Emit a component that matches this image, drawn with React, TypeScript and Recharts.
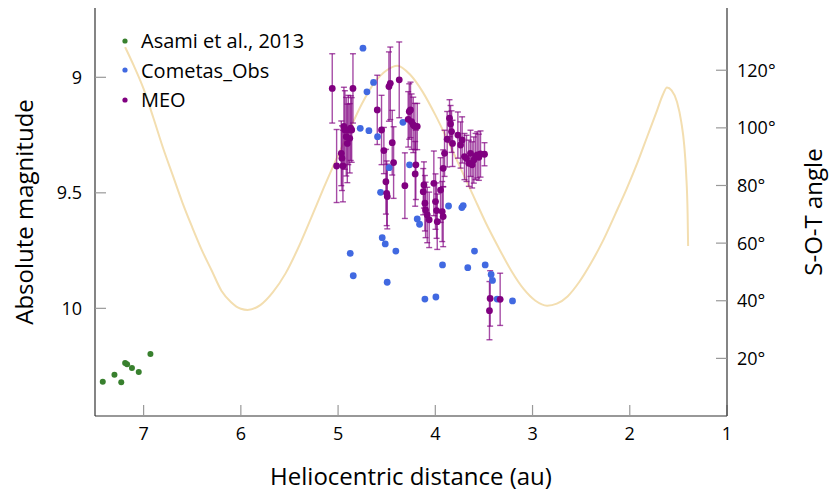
import React from 'react';
import {
  ComposedChart,
  Scatter,
  Line,
  XAxis,
  YAxis,
  ErrorBar,
  Label,
  Legend,
} from 'recharts';

// Asami et al., 2013
const asamiR = [7.42, 7.3, 7.23, 7.19, 7.17, 7.12, 7.05, 6.93];
const asamiMag = [10.318, 10.287, 10.32, 10.237, 10.242, 10.258, 10.276, 10.198];

// Cometas_Obs
const obsR = [
  4.744, 4.635, 4.703, 4.772, 4.683, 4.594, 4.333, 4.474, 4.265, 4.563, 3.864,
  3.727, 3.713, 4.186, 4.162, 4.875, 4.844, 4.546, 4.515, 4.406, 4.495, 4.107,
  3.994, 3.926, 3.666, 3.597, 3.487, 3.426, 3.412, 3.364, 3.206,
];
const obsMag = [
  8.874, 9.022, 9.063, 9.221, 9.231, 9.257, 9.195, 9.391, 9.379, 9.498, 9.557,
  9.564, 9.555, 9.613, 9.636, 9.762, 9.859, 9.694, 9.721, 9.752, 9.887, 9.96,
  9.951, 9.812, 9.824, 9.752, 9.812, 9.853, 9.879, 9.96, 9.968,
];

// MEO with error bars
const meoR = [
  5.06, 5.015, 4.967, 4.96, 4.95, 4.94, 4.93, 4.916, 4.905, 4.895, 4.88, 4.87,
  4.86, 4.847, 4.597, 4.553, 4.529, 4.508, 4.5, 4.494, 4.477, 4.463, 4.443,
  4.429, 4.371, 4.313, 4.279, 4.268, 4.255, 4.244, 4.227, 4.21, 4.207, 4.2,
  4.186, 4.124, 4.117, 4.107, 4.1, 4.083, 4.063, 4.015, 3.998, 3.987, 3.98,
  3.946, 3.929, 3.919, 3.919, 3.905, 3.878, 3.854, 3.843, 3.833, 3.823, 3.768,
  3.74, 3.724, 3.7, 3.679, 3.655, 3.638, 3.621, 3.604, 3.586, 3.569, 3.552,
  3.535, 3.494, 3.436, 3.443, 3.333,
];
const meoMag = [
  9.048, 9.384, 9.329, 9.35, 9.384, 9.213, 9.228, 9.257, 9.286, 9.228, 9.264,
  9.22, 9.228, 9.048, 9.141, 9.228, 9.317, 9.452, 9.502, 9.516, 9.04, 9.026,
  9.283, 9.369, 9.011, 9.469, 9.182, 9.148, 9.141, 9.192, 9.206, 9.213, 9.418,
  9.379, 9.213, 9.495, 9.466, 9.545, 9.574, 9.596, 9.617, 9.459, 9.538, 9.577,
  9.625, 9.488, 9.581, 9.603, 9.394, 9.329, 9.268, 9.177, 9.202, 9.235, 9.286,
  9.25, 9.293, 9.271, 9.343, 9.351, 9.372, 9.329, 9.379, 9.358, 9.343, 9.336,
  9.346, 9.332, 9.333, 9.957, 10.01, 9.961,
];
const meoErr = [
  0.15, 0.158, 0.14, 0.14, 0.155, 0.17, 0.17, 0.17, 0.17, 0.15, 0.15, 0.14,
  0.14, 0.15, 0.15, 0.15, 0.1, 0.14, 0.14, 0.14, 0.15, 0.157, 0.14, 0.155,
  0.164, 0.142, 0.12, 0.12, 0.12, 0.12, 0.12, 0.1, 0.14, 0.15, 0.1, 0.1, 0.1,
  0.12, 0.12, 0.12, 0.12, 0.14, 0.12, 0.12, 0.12, 0.14, 0.13, 0.13, 0.08, 0.1,
  0.12, 0.08, 0.08, 0.09, 0.1, 0.1, 0.1, 0.1, 0.1, 0.1, 0.1, 0.1, 0.1, 0.1,
  0.1, 0.1, 0.1, 0.1, 0.05, 0.12, 0.126, 0.113,
];

// S-O-T angle along the orbit
const sotR = [
  7.19, 7.1, 7.0, 6.9, 6.8, 6.7, 6.6, 6.5, 6.4, 6.3, 6.2, 6.1, 6.0, 5.93, 5.8,
  5.67, 5.54, 5.42, 5.28, 5.15, 5.02, 4.89, 4.76, 4.63, 4.5, 4.39, 4.26, 4.13,
  4.0, 3.87, 3.74, 3.61, 3.48, 3.35, 3.22, 3.09, 2.97, 2.85, 2.75, 2.64, 2.52,
  2.4, 2.28, 2.15, 2.03, 1.92, 1.82, 1.72, 1.66, 1.617, 1.57, 1.514, 1.47, 1.44,
  1.42, 1.405, 1.4,
];
const sotAngle = [
  128, 121.5, 113.5, 103.5, 93, 83.5, 74, 65.5, 57.5, 50.5, 43.5, 39.5, 37.2,
  36.8, 38.5, 43, 49.5, 57.6, 68.5, 79, 89, 98.7, 108, 115.5, 120, 121.6, 118.5,
  112.5, 104.5, 95.5, 86, 76.5, 67, 58.5, 50.5, 44, 40, 38.3, 39, 41.5, 46.5,
  53, 60.5, 70, 79, 88, 97, 106, 111.5, 114, 113, 109, 102, 94, 84, 70, 59,
];

const xTicks = [1, 2, 3, 4, 5, 6, 7];
const magTicks = [9, 9.5, 10];
const angleTicks = [20, 40, 60, 80, 100, 120];

const series = [
  { name: 'Asami et al., 2013', color: '#38802e' },
  { name: 'Cometas_Obs', color: '#4169e1' },
  { name: 'MEO', color: '#800080' },
];

const asami = asamiR.map((r, i) => ({ r, mag: asamiMag[i] }));
const obs = obsR.map((r, i) => ({ r, mag: obsMag[i] }));
const meo = meoR.map((r, i) => ({ r, mag: meoMag[i], err: meoErr[i] }));
const sot = sotR.map((r, i) => ({ r, angle: sotAngle[i] }));

const FONT = '"Open Sans", sans-serif';
const tickStyle = { fill: '#000', fontSize: 18, fontFamily: FONT };

const dot = (r: number, fill: string) => (props: any) => (
  <circle cx={props.cx} cy={props.cy} r={r} fill={fill} />
);

const LegendBox = () => (
  <div style={{ fontFamily: FONT, fontSize: 20, color: '#000' }}>
    {series.map((s) => (
      <div key={s.name} style={{ display: 'flex', alignItems: 'center', height: 29.5 }}>
        <svg width={21} height={10}>
          <circle cx={5} cy={5} r={2.6} fill={s.color} />
        </svg>
        <span>{s.name}</span>
      </div>
    ))}
  </div>
);

export default function App() {
  return (
    <div style={{ position: 'absolute', left: 0, top: 0 }}>
      <ComposedChart
        width={830}
        height={492}
        margin={{ top: 8, right: 0, bottom: 0, left: 0 }}
      >
        <XAxis
          dataKey="r"
          type="number"
          domain={[1, 7.5]}
          reversed
          allowDataOverflow
          ticks={xTicks}
          height={76}
          tickSize={-11}
          tickMargin={22}
          tick={tickStyle}
          axisLine={{ stroke: '#333', strokeWidth: 1.2 }}
          tickLine={{ stroke: '#999', strokeWidth: 1.2 }}
        >
          <Label
            content={({ viewBox }: any) => (
              <text
                x={viewBox.x + viewBox.width / 2}
                y={viewBox.y + 69}
                textAnchor="middle"
                fontSize={24}
                fontFamily={FONT}
                fill="#000"
              >
                Heliocentric distance (au)
              </text>
            )}
          />
        </XAxis>
        <XAxis
          xAxisId="top"
          dataKey="r"
          type="number"
          orientation="top"
          domain={[1, 7.5]}
          reversed
          allowDataOverflow
          ticks={[2, 3, 4, 5, 6, 7]}
          height={0}
          tickSize={-11}
          tickFormatter={() => ''}
          axisLine={{ stroke: '#333', strokeWidth: 1.2 }}
          tickLine={{ stroke: '#999', strokeWidth: 1.2 }}
        />
        <YAxis
          yAxisId="mag"
          dataKey="mag"
          type="number"
          domain={[8.7, 10.466]}
          reversed
          allowDataOverflow
          ticks={magTicks}
          width={95}
          tickSize={-11}
          tickMargin={24}
          tick={tickStyle}
          axisLine={{ stroke: '#333', strokeWidth: 1.2 }}
          tickLine={{ stroke: '#999', strokeWidth: 1.2 }}
        >
          <Label
            content={({ viewBox }: any) => {
              const cx = viewBox.x + 23;
              const cy = viewBox.y + viewBox.height / 2;
              return (
                <text
                  x={cx}
                  y={cy}
                  transform={`rotate(-90, ${cx}, ${cy})`}
                  textAnchor="middle"
                  dominantBaseline="central"
                  fontSize={24}
                  fontFamily={FONT}
                  fill="#000"
                >
                  Absolute magnitude
                </text>
              );
            }}
          />
        </YAxis>
        <YAxis
          yAxisId="angle"
          dataKey="angle"
          orientation="right"
          type="number"
          domain={[0, 141.6]}
          allowDataOverflow
          ticks={angleTicks}
          width={103}
          tickSize={-11}
          tickMargin={21}
          tick={tickStyle}
          tickFormatter={(v: number) => `${v}°`}
          axisLine={{ stroke: '#333', strokeWidth: 1.2 }}
          tickLine={{ stroke: '#999', strokeWidth: 1.2 }}
        >
          <Label
            content={({ viewBox }: any) => {
              const cx = viewBox.x + 85;
              const cy = viewBox.y + viewBox.height / 2;
              return (
                <text
                  x={cx}
                  y={cy}
                  transform={`rotate(-90, ${cx}, ${cy})`}
                  textAnchor="middle"
                  dominantBaseline="central"
                  fontSize={24}
                  fontFamily={FONT}
                  fill="#000"
                >
                  S-O-T angle
                </text>
              );
            }}
          />
        </YAxis>
        <Line
          yAxisId="angle"
          data={sot}
          dataKey="angle"
          type="monotone"
          stroke="#f3deb0"
          strokeWidth={2}
          dot={false}
          activeDot={false}
          isAnimationActive={false}
        />
        <Scatter
          yAxisId="mag"
          name={series[0].name}
          data={asami}
          fill={series[0].color}
          shape={dot(3, series[0].color)}
          isAnimationActive={false}
        />
        <Scatter
          yAxisId="mag"
          name={series[1].name}
          data={obs}
          fill={series[1].color}
          shape={dot(3.4, series[1].color)}
          isAnimationActive={false}
        />
        <Scatter
          yAxisId="mag"
          name={series[2].name}
          data={meo}
          fill={series[2].color}
          shape={dot(3.4, series[2].color)}
          isAnimationActive={false}
        >
          <ErrorBar
            dataKey="err"
            direction="y"
            width={3}
            stroke="#800080"
            strokeOpacity={0.7}
            strokeWidth={1.4}
            isAnimationActive={false}
          />
        </Scatter>
        <Legend
          layout="vertical"
          align="center"
          verticalAlign="middle"
          content={() => <LegendBox />}
          wrapperStyle={{ left: 120, top: 26, width: 'auto', height: 'auto' }}
        />
      </ComposedChart>
    </div>
  );
}
